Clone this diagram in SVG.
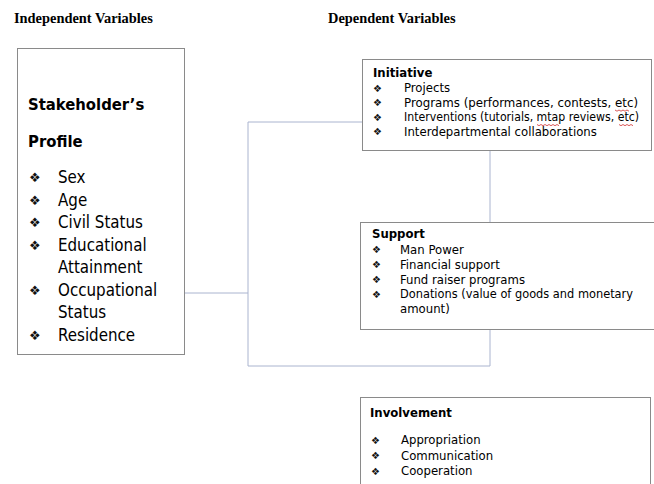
<svg xmlns="http://www.w3.org/2000/svg" width="654" height="484" viewBox="0 0 654 484">
<style>
.hdr{font-family:"Liberation Serif","Times New Roman",serif;font-weight:bold;font-size:14.4px;fill:#000}
.box{fill:#fff;stroke:#8a8a8a;stroke-width:1}
.t{font-family:"DejaVu Sans Condensed","DejaVu Sans",sans-serif;fill:#000}
.big{font-size:16.8px}
.bigb{font-size:16.5px;font-weight:bold}
.sm{font-size:13px}
.smb{font-size:13px;font-weight:bold}
.bul{font-family:"DejaVu Sans","Liberation Sans",sans-serif;fill:#111}
.conn{fill:none;stroke:#aab4cf;stroke-width:1}
.sq{fill:none;stroke:#d03030;stroke-width:0.8}
</style>
<rect width="654" height="484" fill="#fff"/>
<text class="hdr" x="14" y="23">Independent Variables</text>
<text class="hdr" x="328" y="23">Dependent Variables</text>
<g id="connectors">
<polyline class="conn" points="185,293 248,293"/>
<polyline class="conn" points="362,122 248,122 248,366 490,366 490,150"/>
</g>
<g id="profile">
<rect class="box" x="17.5" y="48.5" width="167" height="306"/>
<text class="t bigb" x="28" y="110">Stakeholder’s</text>
<text class="t bigb" x="28" y="147">Profile</text>
<g class="bul" font-size="13">
<text x="29" y="182">❖︎</text><text x="29" y="204.5">❖︎</text><text x="29" y="227">❖︎</text><text x="29" y="249.5">❖︎</text><text x="29" y="294.5">❖︎</text><text x="29" y="339.5">❖︎</text>
</g>
<text class="t big" x="58" y="183">Sex</text>
<text class="t big" x="58" y="205.5">Age</text>
<text class="t big" x="58" y="228">Civil Status</text>
<text class="t big" x="58" y="250.5">Educational</text>
<text class="t big" x="58" y="273">Attainment</text>
<text class="t big" x="58" y="295.5">Occupational</text>
<text class="t big" x="58" y="318">Status</text>
<text class="t big" x="58" y="340.5">Residence</text>
</g>
<g id="initiative">
<rect class="box" x="362.5" y="59.5" width="289" height="91"/>
<text class="t smb" x="373" y="77">Initiative</text>
<g class="bul" font-size="10">
<text x="373" y="91.5">❖︎</text><text x="373" y="106">❖︎</text><text x="373" y="120.5">❖︎</text><text x="373" y="135">❖︎</text>
</g>
<text class="t sm" x="404" y="92">Projects</text>
<text class="t sm" x="404" y="106.5" textLength="234" lengthAdjust="spacingAndGlyphs">Programs (performances, contests, etc)</text>
<text class="t sm" x="404" y="121" textLength="235" lengthAdjust="spacingAndGlyphs">Interventions (tutorials, mtap reviews, etc)</text>
<text class="t sm" x="404" y="135.5">Interdepartmental collaborations</text>
<path class="sq" d="M615,110 l2,1.2 l2,-1.2 l2,1.2 l2,-1.2 l2,1.2 l2,-1.2 l2,1.2"/>
<path class="sq" d="M537,124.5 l2,1.2 l2,-1.2 l2,1.2 l2,-1.2 l2,1.2 l2,-1.2 l2,1.2 l2,-1.2 l2,1.2 l2,-1.2 l2,1.2"/>
<path class="sq" d="M619,124.5 l2,1.2 l2,-1.2 l2,1.2 l2,-1.2 l2,1.2 l2,-1.2 l2,1.2"/>
</g>
<g id="support">
<rect class="box" x="360.5" y="222.5" width="300" height="107"/>
<text class="t smb" x="372" y="238">Support</text>
<g class="bul" font-size="10">
<text x="372" y="253">❖︎</text><text x="372" y="268">❖︎</text><text x="372" y="283">❖︎</text><text x="372" y="297.5">❖︎</text>
</g>
<text class="t sm" x="400" y="253.5">Man Power</text>
<text class="t sm" x="400" y="268.5">Financial support</text>
<text class="t sm" x="400" y="283.5">Fund raiser programs</text>
<text class="t sm" x="400" y="298" textLength="233" lengthAdjust="spacingAndGlyphs">Donations (value of goods and monetary</text>
<text class="t sm" x="400" y="312.5">amount)</text>
</g>
<g id="involvement">
<rect class="box" x="360.5" y="397.5" width="290" height="100"/>
<text class="t smb" x="370" y="417">Involvement</text>
<g class="bul" font-size="10">
<text x="371" y="443.5">❖︎</text><text x="371" y="459">❖︎</text><text x="371" y="474.5">❖︎</text>
</g>
<text class="t sm" x="401" y="444">Appropriation</text>
<text class="t sm" x="401" y="459.5">Communication</text>
<text class="t sm" x="401" y="475">Cooperation</text>
</g>
</svg>
